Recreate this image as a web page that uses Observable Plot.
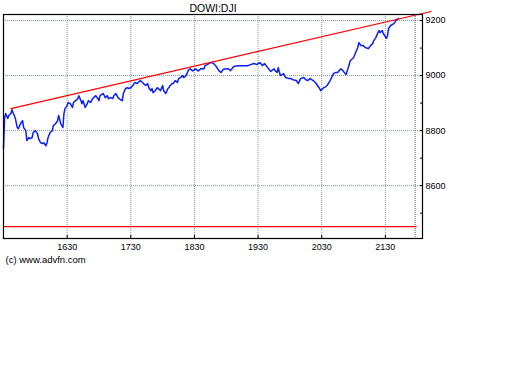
<!DOCTYPE html>
<html>
<head>
<meta charset="utf-8">
<script src="https://cdn.jsdelivr.net/npm/d3@7"></script>
<script src="https://cdn.jsdelivr.net/npm/@observablehq/plot@0.6"></script>
<style>
  html, body { margin: 0; padding: 0; background: #fff; }
  svg { display: block; }
</style>
</head>
<body>
<div id="chart"></div>
<script>
// Time in minutes since midnight (UK time), index level
const times = [930,931,932,934,935,937,938,939,941,943,944,946,948,949,951,952,954,955,957,958,960,962,963,965,967,968,970,971,972,974,976,977,979,981,982,984,986,987,988,990,991,993,995,996,998,1000,1001,1003,1004,1005,1007,1009,1010,1012,1014,1015,1017,1019,1020,1021,1024,1026,1028,1029,1031,1033,1034,1036,1037,1038,1040,1042,1043,1045,1047,1048,1050,1052,1053,1054,1056,1057,1059,1061,1062,1064,1066,1067,1069,1070,1071,1073,1075,1076,1078,1080,1081,1083,1085,1086,1087,1089,1090,1092,1094,1095,1097,1099,1100,1102,1103,1104,1106,1108,1109,1111,1113,1114,1116,1119,1120,1122,1125,1127,1128,1130,1133,1135,1137,1140,1142,1144,1147,1151,1153,1156,1160,1163,1166,1169,1170,1172,1174,1176,1179,1182,1185,1186,1188,1189,1191,1194,1196,1199,1201,1203,1206,1208,1210,1213,1215,1217,1219,1222,1224,1226,1228,1229,1231,1232,1234,1235,1238,1241,1243,1245,1248,1250,1252,1253,1255,1257,1260,1262,1264,1265,1267,1269,1271,1274,1276,1278,1279,1281,1283,1284,1285,1287,1288,1291,1292,1293,1295,1298,1300,1302];
const levels = [8735,8844,8862,8844,8855,8862,8876,8865,8847,8811,8807,8825,8836,8811,8800,8764,8775,8771,8775,8793,8800,8789,8771,8756,8753,8756,8745,8756,8775,8793,8800,8818,8825,8836,8855,8825,8811,8862,8880,8891,8902,8898,8884,8902,8909,8916,8927,8909,8898,8909,8884,8898,8909,8902,8916,8920,8927,8916,8909,8927,8935,8920,8927,8916,8920,8916,8927,8935,8927,8920,8913,8909,8935,8953,8956,8953,8956,8964,8971,8975,8971,8975,8982,8975,8971,8964,8971,8956,8945,8953,8938,8945,8956,8953,8945,8964,8945,8935,8953,8956,8964,8971,8971,8982,8975,8989,8993,9000,8993,9000,9007,9018,9025,9018,9018,9025,9018,9018,9025,9025,9036,9040,9047,9047,9044,9036,9018,9011,9022,9025,9025,9018,9033,9036,9036,9036,9036,9040,9044,9040,9044,9047,9036,9044,9029,9015,9025,9018,9011,9029,9000,9007,8993,8989,8989,8985,8982,8971,8989,8993,8985,8982,8989,8982,8975,8964,8953,8945,8953,8956,8960,8964,8982,9007,9011,9011,9025,9018,9007,9004,9029,9055,9065,9084,9102,9120,9109,9109,9102,9098,9109,9116,9127,9138,9156,9164,9156,9164,9153,9135,9145,9171,9182,9189,9200,9207];

// Trend line (start/end) and support level
const trendTimes = [937, 1333];
const trendLevels = [8880, 9233];
const supportLevel = 8451;
const supportTimes = [930, 1319];
const closeMarker = [1318];

const xDomain = [930, 1325];
const yDomain = [8408, 9222];
const xTicks = [990, 1050, 1110, 1170, 1230, 1290];
const xTickLabels = ["1630", "1730", "1830", "1930", "2030", "2130"];
const yTicks = [8500, 8600, 8700, 8800, 8900, 9000, 9100, 9200];
const yLabelled = [8600, 8800, 9000, 9200];
const title = "DOWI:DJI";
const caption = "(c) www.advfn.com";

const series = times.map((t, i) => ({t, v: levels[i]}));
const trend = trendTimes.map((t, i) => ({t, v: trendLevels[i]}));
const support = supportTimes.map(t => ({t, v: supportLevel}));

const font = "'Liberation Sans', Arial, sans-serif";

const chart = Plot.plot({
  width: 512,
  height: 384,
  marginLeft: 3,
  marginRight: 90,
  marginTop: 14,
  marginBottom: 146,
  style: {fontFamily: font, fontSize: "9px", background: "#fff", color: "#000"},
  x: {domain: xDomain, axis: null},
  y: {domain: yDomain, axis: null},
  marks: [
    Plot.ruleY(yLabelled, {stroke: "#7f9595", strokeDasharray: "1,1"}),
    Plot.ruleX(xTicks, {stroke: "#7f9595", strokeDasharray: "1,1"}),
    Plot.ruleX(closeMarker, {stroke: "#4a5a5a", strokeDasharray: "1,1"}),
    Plot.line(support, {x: "t", y: "v", stroke: "#ff0000", strokeWidth: 1.3}),
    Plot.line(series, {x: "t", y: "v", stroke: "#0a1eff", strokeWidth: 1.5}),
    Plot.line(trend, {x: "t", y: "v", stroke: "#ff0000", strokeWidth: 1.2}),
    Plot.frame({stroke: "#000", strokeWidth: 1.2}),
    Plot.axisY({
      anchor: "right", ticks: yTicks, tickSize: -3, tickPadding: 6,
      tickFormat: d => yLabelled.includes(d) ? String(d) : "",
      label: null, fontSize: 9, fill: "#000"
    }),
    Plot.axisX({
      anchor: "bottom", ticks: xTicks, tickSize: -3, tickPadding: 8,
      tickFormat: d => xTickLabels[xTicks.indexOf(d)],
      label: null, fontSize: 9, fill: "#000"
    }),
    Plot.text([title], {frameAnchor: "top", lineAnchor: "middle", dy: -6, fontSize: 10.5, fill: "#000"}),
    Plot.text([caption], {frameAnchor: "bottom-left", lineAnchor: "middle", dx: 2, dy: 21, textAnchor: "start", fontSize: 9.5, fill: "#000"})
  ]
});
document.getElementById("chart").appendChild(chart);
</script>
</body>
</html>
